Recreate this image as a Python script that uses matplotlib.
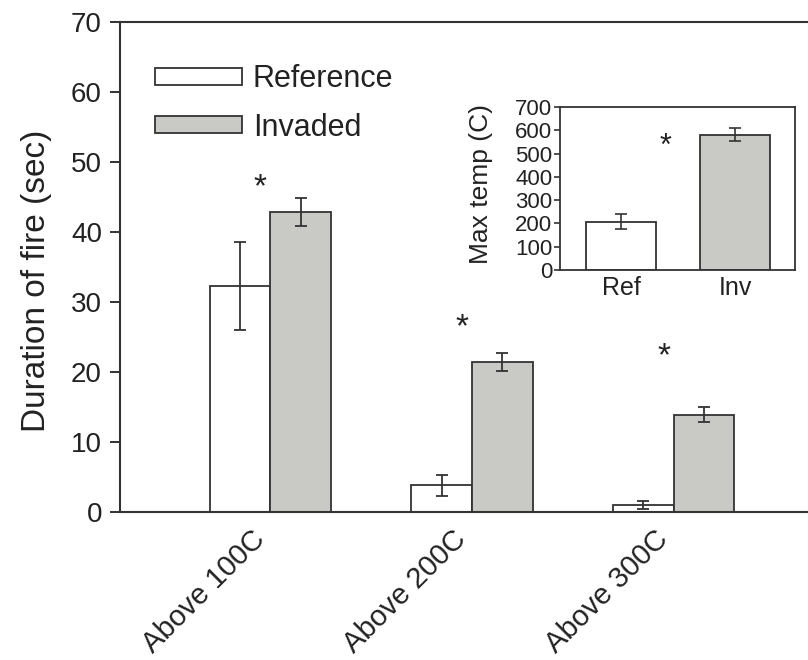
import matplotlib
matplotlib.use("Agg")
import matplotlib.pyplot as plt
import numpy as np

plt.rcParams['font.family'] = ['Liberation Sans', 'DejaVu Sans']

# main chart data
categories = ["Above 100C", "Above 200C", "Above 300C"]
ref_dur = [32.3, 3.8, 1.0]
ref_err = [6.3, 1.5, 0.6]
inv_dur = [42.9, 21.4, 13.9]
inv_err = [2.0, 1.3, 1.1]
star_y = [46.3, 26.3, 22.2]

# inset data
inset_labels = ["Ref", "Inv"]
max_temp = [207, 580]
max_temp_err = [33, 28]
inset_star_y = 530

edge = "#333333"
gray = "#c9c9c5"
txt = "#222222"

fig = plt.figure(figsize=(8.08, 6.6), dpi=100)
ax = fig.add_axes([120 / 808, 1 - 512 / 660, (824 - 120) / 808, 490 / 660])

x = np.arange(len(categories))
w = 0.30
ekw = dict(ecolor=edge, elinewidth=1.3, capsize=4.5, capthick=1.3)
ax.bar(x - w / 2, ref_dur, w, yerr=ref_err, color="white", edgecolor=edge,
       linewidth=1.3, label="Reference", error_kw=ekw)
ax.bar(x + w / 2, inv_dur, w, yerr=inv_err, color=gray, edgecolor=edge,
       linewidth=1.3, label="Invaded", error_kw=ekw)
for xi, sy in zip(x, star_y):
    ax.text(xi - 0.05, sy, "*", ha="center", va="center", fontsize=24, color=txt)

ax.set_xlim(-0.745, 2.745)
ax.set_ylim(0, 70)
ax.set_yticks(range(0, 71, 10))
ax.set_xticks(x)
# anchor the rotated labels by their bottom-right corner so they sit up-left
ax.set_xticklabels(categories, rotation=45, ha="right", va="bottom",
                   rotation_mode="anchor", fontsize=21, color=txt)
ax.tick_params(axis="x", length=0, pad=23.5)
ax.tick_params(axis="y", direction="out", length=7, width=1.3, labelsize=20,
               colors=txt, pad=6)
ax.set_ylabel("Duration of fire (sec)", fontsize=24, color=txt)
ax.yaxis.set_label_coords(-0.0966, 0.471)
for s in ax.spines.values():
    s.set_linewidth(1.5)
    s.set_color(edge)

leg = ax.legend(loc="upper left", bbox_to_anchor=(0.01, 0.97), frameon=False,
                fontsize=22, handlelength=2.87, handleheight=0.46, handletextpad=0.35,
                labelspacing=0.6)
for t in leg.get_texts():
    t.set_color(txt)

# inset
ins = fig.add_axes([560 / 808, 1 - 270 / 660, 235 / 808, 163 / 660])
xi = np.arange(len(inset_labels))
ins.bar(xi, max_temp, 0.62, yerr=max_temp_err, color=["white", gray],
        edgecolor=edge, linewidth=1.3,
        error_kw=dict(ecolor=edge, elinewidth=1.2, capsize=4, capthick=1.2))
ins.text(0.39, inset_star_y, "*", ha="center", va="center", fontsize=22, color=txt)
ins.set_xlim(-0.535, 1.526)
ins.set_ylim(0, 700)
ins.set_yticks(range(0, 701, 100))
ins.set_xticks(xi)
ins.set_xticklabels(inset_labels, fontsize=18, color=txt)
ins.tick_params(axis="x", length=0, pad=4)
ins.tick_params(axis="y", direction="out", length=4, width=1.1, labelsize=16,
                colors=txt, pad=1.5)
ins.set_ylabel("Max temp (C)", fontsize=19, color=txt)
ins.yaxis.set_label_coords(-0.285, 0.525)
for s in ins.spines.values():
    s.set_linewidth(1.3)
    s.set_color(edge)

fig.savefig("out.png", dpi=100)
